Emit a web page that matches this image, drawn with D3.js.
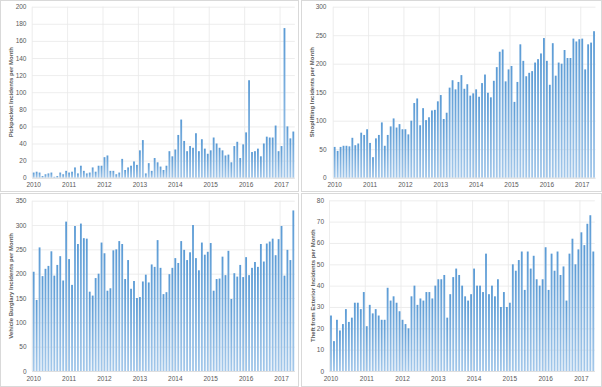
<!DOCTYPE html>
<html>
<head>
<meta charset="utf-8">
<script src="https://cdn.jsdelivr.net/npm/d3@7"></script>
<style>
  body { margin: 0; background: #fff; }
  text { font-family: "Liberation Sans", Arial, sans-serif; fill: #595959; }
</style>
</head>
<body>
<svg id="chart" width="602" height="387"></svg>
<script>
// monthly categories, Jan 2010 .. May 2017
var months = d3.timeMonth.range(new Date(2010, 0, 1), new Date(2017, 5, 1));
var year_labels = ["2010", "2011", "2012", "2013", "2014", "2015", "2016", "2017"];

var pickpocket = [
    6, 7, 6, 2, 4, 5, 6, 1, 2, 6, 4, 8,
    6, 7, 12, 5, 14, 8, 5, 6, 12, 7, 14, 14,
    24, 26, 8, 8, 4, 6, 22, 9, 12, 14, 19, 15,
    32, 44, 5, 17, 8, 23, 18, 13, 9, 14, 31, 25,
    33, 50, 68, 43, 31, 37, 35, 52, 31, 45, 34, 28,
    32, 47, 40, 35, 32, 26, 27, 18, 37, 42, 23, 39,
    53, 114, 30, 31, 34, 25, 40, 48, 47, 47, 61, 31,
    37, 175, 60, 46, 54
];
var shoplifting = [
    54, 47, 54, 56, 56, 55, 70, 57, 60, 79, 75, 85,
    61, 36, 69, 75, 97, 56, 75, 90, 104, 88, 94, 85,
    85, 76, 100, 131, 139, 92, 122, 101, 106, 118, 119, 134,
    145, 103, 114, 158, 171, 155, 168, 180, 156, 164, 144, 148,
    155, 142, 166, 181, 149, 141, 170, 194, 221, 225, 169, 190,
    196, 133, 168, 234, 205, 178, 184, 187, 202, 208, 218, 245,
    205, 163, 236, 179, 202, 200, 224, 210, 210, 244, 239, 243,
    244, 190, 234, 237, 257
];
var vehicle_burglary = [
    204, 146, 254, 195, 210, 216, 246, 196, 218, 236, 186, 307,
    230, 177, 298, 261, 303, 273, 272, 163, 155, 191, 200, 264,
    242, 165, 170, 248, 250, 267, 261, 189, 228, 169, 185, 150,
    152, 184, 198, 182, 219, 214, 269, 212, 158, 162, 199, 212,
    232, 222, 267, 249, 228, 244, 300, 232, 207, 264, 239, 245,
    263, 165, 189, 190, 235, 197, 247, 148, 201, 194, 218, 193,
    234, 197, 212, 224, 214, 261, 225, 262, 266, 272, 238, 271,
    298, 196, 249, 228, 330
];
var theft_exterior = [
    26, 14, 24, 19, 22, 29, 23, 25, 32, 32, 29, 37,
    21, 31, 27, 29, 26, 24, 24, 39, 33, 35, 32, 28,
    24, 22, 20, 35, 40, 31, 34, 33, 37, 37, 34, 40,
    43, 43, 45, 25, 36, 44, 48, 45, 40, 35, 33, 36,
    48, 40, 40, 37, 55, 36, 40, 35, 43, 30, 37, 30,
    32, 50, 47, 52, 56, 38, 56, 48, 54, 43, 40, 43,
    58, 38, 55, 47, 56, 45, 49, 33, 55, 62, 50, 57,
    65, 59, 69, 73, 56
];

var pickpocket_ticks = [0, 20, 40, 60, 80, 100, 120, 140, 160, 180, 200];
var shoplifting_ticks = [0, 50, 100, 150, 200, 250, 300];
var burglary_ticks = [0, 50, 100, 150, 200, 250, 300, 350];
var exterior_ticks = [0, 10, 20, 30, 40, 50, 60, 70, 80];

var titles = [
    "Pickpocket Incidents per Month",
    "Shoplifting Incidents per Month",
    "Vehicle Burglary Incidents per Month",
    "Theft from Exterior Incidents per Month"
];

var svg = d3.select("#chart");

var grad = svg.append("defs").append("linearGradient")
    .attr("id", "bar_fill")
    .attr("x1", 0).attr("y1", 0).attr("x2", 0).attr("y2", 1);
grad.append("stop").attr("offset", "0%").attr("stop-color", "#5b9bd5");
grad.append("stop").attr("offset", "100%").attr("stop-color", "#a4c8ea");

// layout of the four boxes
var panels = [
    { values: pickpocket, ticks: pickpocket_ticks, title: titles[0],
      box: [0.5, 0.5, 298, 191], x0: 32.2, x1: 294.8, y0: 177.7, y1: 6.7,
      label_x: 26.5, title_x: 11, label_y: 186.5 },
    { values: shoplifting, ticks: shoplifting_ticks, title: titles[1],
      box: [301.5, 0.5, 300, 191], x0: 333.2, x1: 595.5, y0: 177.7, y1: 6.7,
      label_x: 326.5, title_x: 312, label_y: 186.5 },
    { values: vehicle_burglary, ticks: burglary_ticks, title: titles[2],
      box: [0.5, 193.5, 298, 193], x0: 32.2, x1: 294.8, y0: 371, y1: 200.7,
      label_x: 26.5, title_x: 11, label_y: 381 },
    { values: theft_exterior, ticks: exterior_ticks, title: titles[3],
      box: [301.5, 193.5, 300, 193], x0: 329.5, x1: 594.8, y0: 371, y1: 200.3,
      label_x: 324, title_x: 312.5, label_y: 381 }
];

panels.forEach(draw_panel);

function draw_panel(p) {
    var g = svg.append("g");

    g.append("rect")
        .attr("x", p.box[0]).attr("y", p.box[1])
        .attr("width", p.box[2]).attr("height", p.box[3])
        .attr("fill", "#fff")
        .attr("stroke", "#d9d9d9");

    var x = d3.scaleBand()
        .domain(months)
        .range([p.x0, p.x1])
        .paddingInner(0.38)
        .paddingOuter(0.19);

    var y = d3.scaleLinear()
        .domain([0, p.ticks[p.ticks.length - 1]])
        .range([p.y0, p.y1]);

    var step = x.step();

    // horizontal grid
    g.append("g")
        .call(d3.axisLeft(y).tickValues(p.ticks).tickSize(-(p.x1 - p.x0)).tickFormat(""))
        .attr("transform", "translate(" + p.x1 + ",0)")
        .call(function(a) { a.select(".domain").remove(); })
        .selectAll("line")
        .attr("transform", "translate(" + -(p.x1 - p.x0) + ",0)")
        .attr("x2", p.x1 - p.x0)
        .attr("stroke", "#e8e8e8")
        .attr("stroke-width", 0.8);

    // vertical year grid
    var jan = months.filter(function(d) { return d.getMonth() == 0; });
    g.selectAll(".vgrid")
        .data(jan)
        .enter().append("line")
        .attr("x1", function(d) { return x(d) - (step - x.bandwidth()) / 2; })
        .attr("x2", function(d) { return x(d) - (step - x.bandwidth()) / 2; })
        .attr("y1", p.y1)
        .attr("y2", p.y0)
        .attr("stroke", "#e8e8e8")
        .attr("stroke-width", 0.8);

    g.selectAll(".bar")
        .data(p.values)
        .enter().append("rect")
        .attr("x", function(d, i) { return x(months[i]); })
        .attr("width", x.bandwidth())
        .attr("y", function(d) { return y(d); })
        .attr("height", function(d) { return p.y0 - y(d); })
        .attr("fill", "url(#bar_fill)");

    // baseline
    g.append("line")
        .attr("x1", p.x0).attr("x2", p.x1)
        .attr("y1", p.y0 + 0.5).attr("y2", p.y0 + 0.5)
        .attr("stroke", "#d9d9d9")
        .attr("stroke-width", 0.8);

    // y tick labels
    g.selectAll(".ylab")
        .data(p.ticks)
        .enter().append("text")
        .text(function(d) { return d; })
        .attr("x", p.label_x)
        .attr("y", function(d) { return y(d); })
        .attr("text-anchor", "end")
        .attr("dominant-baseline", "central")
        .style("font-size", "6.5px");

    // x year labels
    g.selectAll(".xlab")
        .data(jan)
        .enter().append("text")
        .text(function(d, i) { return year_labels[i]; })
        .attr("x", function(d) { return x(d) + x.bandwidth() / 2; })
        .attr("y", p.label_y)
        .attr("text-anchor", "middle")
        .style("font-size", "6.5px");

    g.append("text")
        .text(p.title)
        .attr("transform", "translate(" + p.title_x + "," + (p.y0 + p.y1) / 2 + ") rotate(-90)")
        .attr("text-anchor", "middle")
        .attr("dominant-baseline", "central")
        .style("font-size", "6px")
        .style("font-weight", "bold");
}
</script>
</body>
</html>
